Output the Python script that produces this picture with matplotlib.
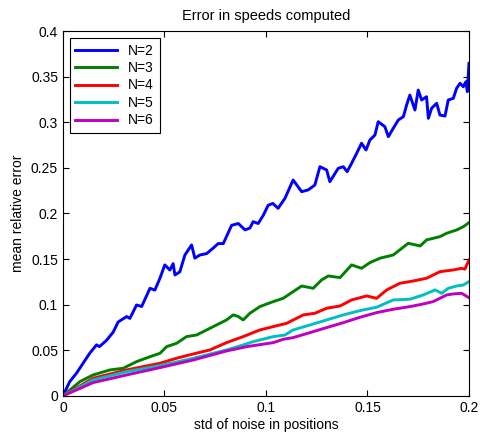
import matplotlib
matplotlib.use("Agg")
import matplotlib.pyplot as plt

plt.rcParams['font.family'] = ['Liberation Sans', 'DejaVu Sans']

# values (x = std of noise, y = mean relative error)
x_n2 = [0.0, 0.0034, 0.0067, 0.010, 0.0133, 0.0166, 0.018, 0.0215, 0.0248, 0.0272,
        0.0314, 0.033, 0.0363, 0.0388, 0.0429, 0.0453, 0.0478, 0.0502, 0.0527, 0.0543,
        0.0552, 0.0576, 0.0601, 0.0634, 0.065, 0.0675, 0.0708, 0.074, 0.0765, 0.079,
        0.0831, 0.0864, 0.0897, 0.0921, 0.0937, 0.0962, 0.0987, 0.1011, 0.1034, 0.106,
        0.1094, 0.1134, 0.1176, 0.1208, 0.1241, 0.1266, 0.1299, 0.1315, 0.1356, 0.1381,
        0.140, 0.1422, 0.1447, 0.1471, 0.1493, 0.1512, 0.1537, 0.1553, 0.1586, 0.1603,
        0.1627, 0.1652, 0.1677, 0.1693, 0.1709, 0.1734, 0.175, 0.1767, 0.1791, 0.180,
        0.1816, 0.1841, 0.1857, 0.1882, 0.1898, 0.1923, 0.1939, 0.1956, 0.1972, 0.1985,
        0.1992, 0.2]
y_n2 = [0.0, 0.0157, 0.0249, 0.036, 0.047, 0.056, 0.054, 0.061, 0.070, 0.081,
        0.087, 0.085, 0.0997, 0.098, 0.118, 0.116, 0.129, 0.1436, 0.138, 0.145,
        0.1326, 0.136, 0.1545, 0.1655, 0.151, 0.1545, 0.156, 0.162, 0.167, 0.167,
        0.187, 0.189, 0.182, 0.184, 0.191, 0.189, 0.198, 0.209, 0.211, 0.2057,
        0.2167, 0.2367, 0.2239, 0.2258, 0.2312, 0.2513, 0.2477, 0.2348, 0.2495, 0.2513,
        0.2458, 0.255, 0.266, 0.277, 0.2696, 0.2805, 0.286, 0.3006, 0.2951, 0.2842,
        0.2933, 0.3025, 0.3061, 0.3189, 0.3298, 0.3134, 0.3353, 0.3244, 0.328, 0.3043,
        0.3153, 0.3208, 0.3079, 0.3068, 0.3244, 0.3262, 0.3372, 0.3427, 0.339, 0.3444,
        0.3335, 0.3646]

x_n3 = [0.0, 0.0084, 0.0149, 0.0232, 0.0297, 0.0363, 0.0429, 0.0478, 0.0511, 0.056,
        0.0609, 0.0659, 0.0708, 0.0757, 0.0806, 0.0839, 0.0864, 0.0888, 0.0921, 0.097,
        0.1036, 0.1085, 0.1134, 0.1176, 0.1233, 0.1274, 0.1307, 0.1365, 0.1422, 0.1471,
        0.1512, 0.1562, 0.1627, 0.1701, 0.176, 0.1791, 0.1857, 0.189, 0.1939, 0.1972, 0.2]
y_n3 = [0.0, 0.0157, 0.023, 0.0285, 0.0303, 0.0376, 0.043, 0.0467, 0.054, 0.0577,
        0.065, 0.0668, 0.0723, 0.0778, 0.0833, 0.0888, 0.087, 0.0833, 0.0906, 0.0979,
        0.1034, 0.107, 0.1143, 0.1205, 0.118, 0.1271, 0.1315, 0.1297, 0.1436, 0.1399,
        0.1461, 0.151, 0.1545, 0.1673, 0.1644, 0.171, 0.1746, 0.1783, 0.1819, 0.1855, 0.1899]

x_n4 = [0.0, 0.0149, 0.0314, 0.0478, 0.056, 0.0642, 0.0724, 0.0806, 0.0888, 0.097,
        0.1036, 0.1102, 0.1184, 0.1241, 0.1299, 0.1365, 0.1422, 0.1496, 0.1545, 0.1595,
        0.166, 0.1726, 0.1791, 0.1857, 0.1923, 0.1964, 0.198, 0.2]
y_n4 = [0.0, 0.0194, 0.0285, 0.0358, 0.0413, 0.046, 0.0504, 0.0584, 0.065, 0.0723,
        0.076, 0.0796, 0.0888, 0.0906, 0.0961, 0.0986, 0.1052, 0.1096, 0.107, 0.1162,
        0.1235, 0.126, 0.129, 0.1362, 0.1381, 0.1399, 0.139, 0.149]

x_n5 = [0.0, 0.0149, 0.0314, 0.0478, 0.0642, 0.0806, 0.0888, 0.0937, 0.1036, 0.1094,
        0.1134, 0.1217, 0.1299, 0.1381, 0.1463, 0.1545, 0.1627, 0.1709, 0.1775, 0.1833,
        0.1866, 0.1898, 0.1939, 0.1972, 0.2]
y_n5 = [0.0, 0.0175, 0.0266, 0.0332, 0.0413, 0.0504, 0.0559, 0.0595, 0.065, 0.0668,
        0.0723, 0.0778, 0.0833, 0.0888, 0.0935, 0.0972, 0.1052, 0.106, 0.1107, 0.1162,
        0.1125, 0.118, 0.1205, 0.1216, 0.1253]

x_n6 = [0.0, 0.0149, 0.0314, 0.0478, 0.0642, 0.0806, 0.0905, 0.1036, 0.1085, 0.1134,
        0.1217, 0.1299, 0.1381, 0.1463, 0.1545, 0.1627, 0.1709, 0.1775, 0.1824, 0.189,
        0.1923, 0.1964, 0.2]
y_n6 = [0.0, 0.0146, 0.023, 0.031, 0.0394, 0.0493, 0.054, 0.0584, 0.0621, 0.0639,
        0.0694, 0.0749, 0.0803, 0.0862, 0.0913, 0.095, 0.0979, 0.1008, 0.1034, 0.1107,
        0.1118, 0.1125, 0.1077]

series = [
    ("N=2", x_n2, y_n2, (0, 0, 1)),
    ("N=3", x_n3, y_n3, (0, 0.5, 0)),
    ("N=4", x_n4, y_n4, (1, 0, 0)),
    ("N=5", x_n5, y_n5, (0, 0.75, 0.75)),
    ("N=6", x_n6, y_n6, (0.75, 0, 0.75)),
]

fig = plt.figure(figsize=(4.8, 4.37), dpi=100)
ax = fig.add_axes([0.131, 0.094, 0.846, 0.835])

for name, xs, ys, c in series:
    ax.plot(xs, ys, color=c, lw=2.1, label=name)

ax.set_xlim(0, 0.2)
ax.set_ylim(0, 0.4)
ax.set_xticks([0, 0.05, 0.1, 0.15, 0.2])
ax.set_xticklabels(['0', '0.05', '0.1', '0.15', '0.2'])
ax.set_yticks([0, 0.05, 0.1, 0.15, 0.2, 0.25, 0.3, 0.35, 0.4])
ax.set_yticklabels(['0', '0.05', '0.1', '0.15', '0.2', '0.25', '0.3', '0.35', '0.4'])
ax.tick_params(direction='in', top=True, right=True, length=4, labelsize=10)
for s in ax.spines.values():
    s.set_linewidth(0.8)

ax.set_title("Error in speeds computed", fontsize=10.5, pad=8)
ax.set_xlabel("std of noise in positions", fontsize=10, labelpad=2)
ax.set_ylabel("mean relative error", fontsize=10)

leg = ax.legend(loc='upper left', fontsize=10, fancybox=False, framealpha=1,
                edgecolor='black', handlelength=3, labelspacing=0.25,
                borderaxespad=0.5)
leg.get_frame().set_linewidth(0.8)

fig.savefig("out.png", dpi=100)
